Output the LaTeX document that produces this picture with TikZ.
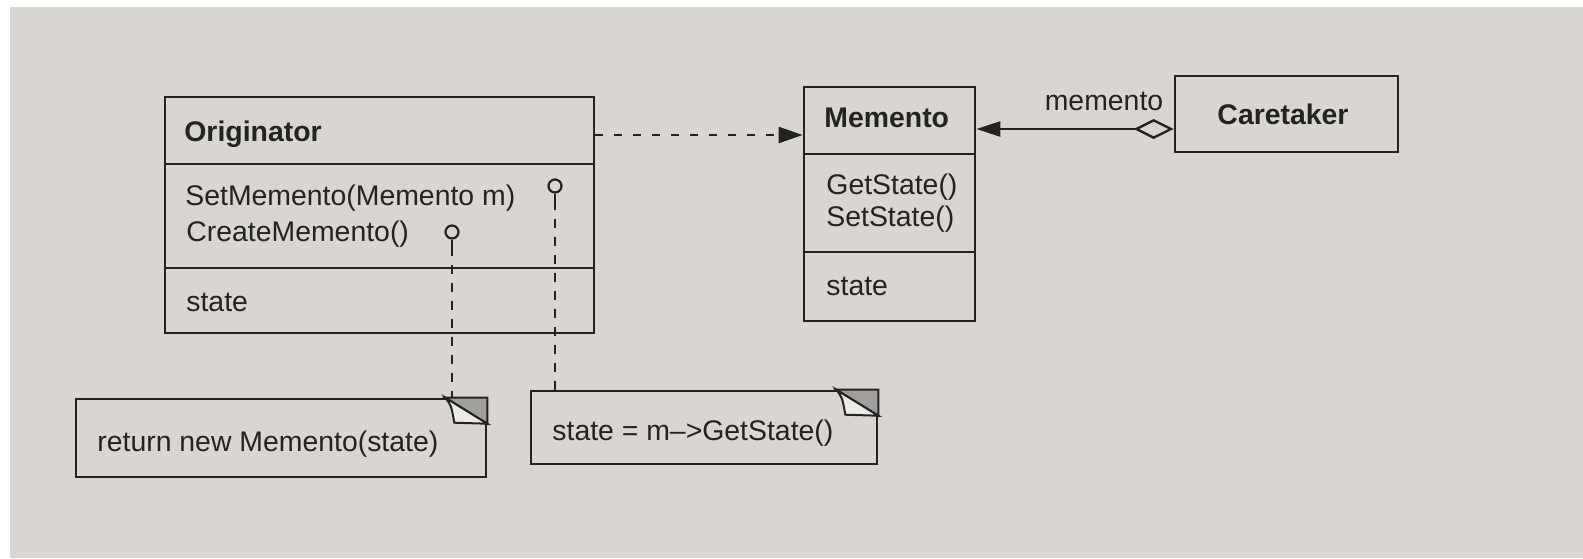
\documentclass[tikz,border=0pt]{standalone}
\usepackage{fontspec}
\setmainfont{Liberation Sans}
\usetikzlibrary{arrows.meta}
\definecolor{paper}{RGB}{217,214,209}
\definecolor{ink}{RGB}{35,35,35}
\definecolor{foldgray}{RGB}{160,159,156}
\definecolor{flap}{RGB}{236,234,230}

\begin{document}
\begin{tikzpicture}[x=0.5pt,y=-0.5pt,
	font=\fontsize{14.2}{17}\selectfont,
	box/.style={draw=ink,line width=1.3pt,inner sep=0pt},
	txt/.style={anchor=west,inner sep=0pt,text=ink},
	lolli/.style={draw=ink,line width=1.1pt,circle,inner sep=0pt,minimum size=6.5pt},
	link/.style={draw=ink,line width=1.1pt,dash pattern=on 4.5pt off 4.5pt}]
	\fill[white] (0,0) rectangle (1583,558);
	\fill[paper] (10,7) rectangle (1583,558);
	\useasboundingbox (0,0) rectangle (1583,558);

	\node[box,minimum width=214.5pt,minimum height=118pt] (orig) at (379.5,215) {};
	\node[box,minimum width=85.5pt,minimum height=117pt] (mem) at (889.5,204) {};
	\node[box,minimum width=111.5pt,minimum height=38pt] (care) at (1286.5,114) {};
	\node[box,minimum width=205pt,minimum height=39pt] (note1) at (281,438) {};
	\node[box,minimum width=173pt,minimum height=36.5pt] (note2) at (704,427.5) {};
	\foreach \y in {164,268}
		\draw[ink,line width=1.3pt] (orig.west |- 0,\y) -- (orig.east |- 0,\y);
	\foreach \y in {154,252}
		\draw[ink,line width=1.3pt] (mem.west |- 0,\y) -- (mem.east |- 0,\y);

	\node[txt] (origname) at (184,134) {\bfseries Originator};
	\node[txt] (setmem) at (185,198) {SetMemento(Memento m)};
	\node[txt] (cremem) at (186,234) {CreateMemento()};
	\node[txt] (origstate) at (186,302) {state};
	\node[txt] (memname) at (824,118) {\bfseries Memento};
	\node[txt] (getst) at (826,187) {GetState()};
	\node[txt] (setst) at (826,219) {SetState()};
	\node[txt] (memstate) at (826,286) {state};
	\node[text=ink,inner sep=0pt] (carename) at (1283,114) {\bfseries Caretaker};
	\node[text=ink,inner sep=0pt] (rolename) at (1104,101) {memento};
	\node[txt] (ret) at (97,444) {return new Memento(state)};
	\node[txt] (asg) at (552,433) {state = m\textendash{}>GetState()};

	\node[lolli] (lset) at (555,186) {};
	\node[lolli] (lcre) at (452,232) {};
	\draw[ink,line width=1.1pt] (lset.south) -- ++(0,7);
	\draw[ink,line width=1.1pt] (lcre.south) -- ++(0,7);
	\draw[link] (lset.south) ++(0,7) -- (lset.south |- note2.north);
	\draw[link] (lcre.south) ++(0,7) -- (lcre.south |- note1.north);

	\draw[ink,line width=1.2pt,dash pattern=on 4pt off 5.5pt,-{Triangle[length=12pt,width=8pt]}] (orig.east |- 0,135) -- (mem.west |- 0,135);
	\draw[ink,line width=1.2pt,{Diamond[open,length=20pt,width=10pt]}-{Triangle[length=12pt,width=7.5pt]}] (care.west |- 0,129) -- (mem.east |- 0,129);

	\foreach \n in {note1,note2}{
		\begin{scope}[shift={(\n.north east)}]
			\filldraw[fill=foldgray,draw=ink,line width=1pt] (-42,0) -- (0,0) -- (0,26) -- cycle;
			\filldraw[fill=flap,draw=ink,line width=1pt] (-42,0) .. controls (-36,8) .. (-33,25) -- (0,26) -- cycle;
		\end{scope}
	}
\end{tikzpicture}
\end{document}
